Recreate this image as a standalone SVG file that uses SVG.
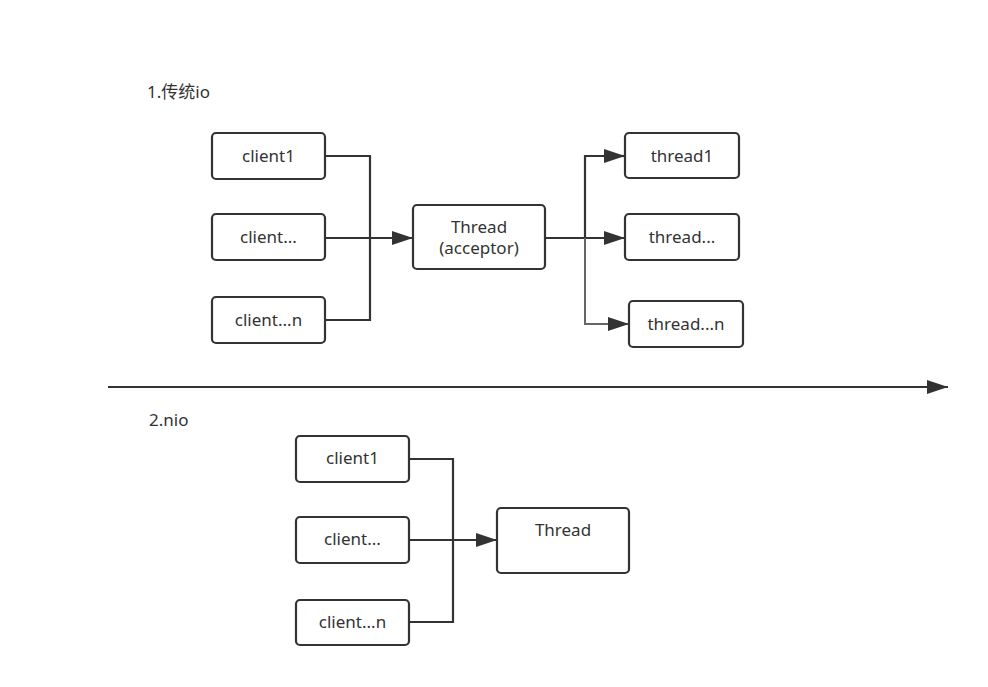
<svg xmlns="http://www.w3.org/2000/svg" width="988" height="687" viewBox="0 0 988 687">
<defs>
<style>
.box{fill:#fff;stroke:#333;stroke-width:2.2}
.t{font-family:"Noto Sans","Noto Sans CJK SC",sans-serif;font-size:17px;fill:#333;text-anchor:middle}
.h{font-family:"Noto Sans","Noto Sans CJK SC",sans-serif;font-size:17px;fill:#333}
.c{fill:none;stroke:#333;stroke-width:2.2}
</style>
<marker id="ah2" viewBox="0 0 21 14" refX="21" refY="7" markerWidth="21" markerHeight="14" markerUnits="userSpaceOnUse" orient="auto">
<path d="M0,0 L21,7 L0,14 z" fill="#333"/>
</marker>
</defs>
<rect width="988" height="687" fill="#fff"/>
<text class="h" x="147" y="98">1.传统io</text>
<text class="h" x="149" y="426">2.nio</text>
<g id="connectors">
<path class="c" d="M326,156 H370 V320 H326"/>
<path class="c" d="M326,238 H413" marker-end="url(#ah2)"/>
<path class="c" d="M545,238 H625" marker-end="url(#ah2)"/>
<path class="c" d="M625,156 H585 V238"/>
<path class="c" d="M603,156 H625" marker-end="url(#ah2)"/>
<path fill="none" stroke="#666" stroke-width="2" d="M585,238 V324 H629" marker-end="url(#ah2)"/>
<path class="c" d="M108,387 H948" marker-end="url(#ah2)"/>
<path class="c" d="M409,459 H453 V622 H409"/>
<path class="c" d="M409,540 H497" marker-end="url(#ah2)"/>
</g>
<g id="client1-a"><rect class="box" x="212" y="133" width="113" height="46" rx="4"/><text class="t" x="268.5" y="162">client1</text></g>
<g id="client-a"><rect class="box" x="212" y="214" width="113" height="46" rx="4"/><text class="t" x="268.5" y="243">client...</text></g>
<g id="clientn-a"><rect class="box" x="212" y="297" width="113" height="46" rx="4"/><text class="t" x="268.5" y="326">client...n</text></g>
<g id="acceptor"><rect class="box" x="413" y="205" width="132" height="64" rx="4"/><text class="t" x="479" y="233">Thread</text><text class="t" x="479" y="254">(acceptor)</text></g>
<g id="thread1"><rect class="box" x="625" y="133" width="114" height="45" rx="4"/><text class="t" x="682" y="162">thread1</text></g>
<g id="thread-"><rect class="box" x="625" y="214" width="114" height="46" rx="4"/><text class="t" x="682" y="243">thread...</text></g>
<g id="threadn"><rect class="box" x="629" y="301" width="114" height="46" rx="4"/><text class="t" x="686" y="330">thread...n</text></g>
<g id="client1-b"><rect class="box" x="296" y="436" width="113" height="46" rx="4"/><text class="t" x="352.5" y="464">client1</text></g>
<g id="client-b"><rect class="box" x="296" y="517" width="113" height="46" rx="4"/><text class="t" x="352.5" y="545">client...</text></g>
<g id="clientn-b"><rect class="box" x="296" y="600" width="113" height="45" rx="4"/><text class="t" x="352.5" y="628">client...n</text></g>
<g id="thread-b"><rect class="box" x="497" y="508" width="132" height="65" rx="4"/><text class="t" x="563" y="536">Thread</text></g>
</svg>
